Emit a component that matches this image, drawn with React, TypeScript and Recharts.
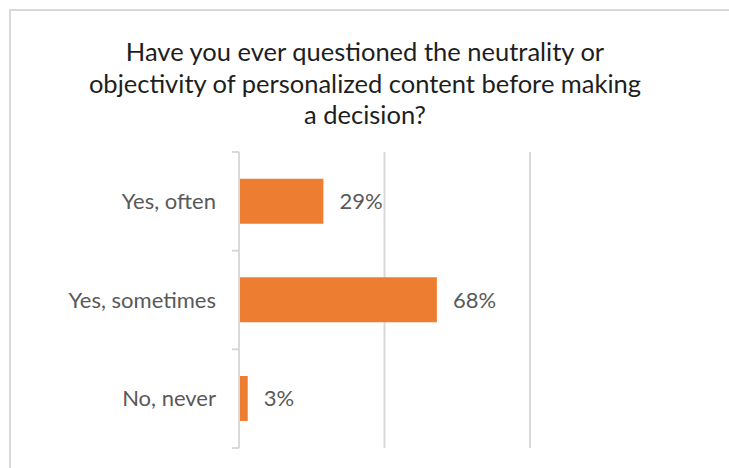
import React from 'react';
import { BarChart, Bar, XAxis, YAxis, CartesianGrid, LabelList } from 'recharts';

const categories = ['Yes, often', 'Yes, sometimes', 'No, never'];
const shares = [29, 68, 3];
const gridTicks = [0, 50, 100];
const titleLines = [
  'Have you ever questioned the neutrality or',
  'objectivity of personalized content before making',
  'a decision?',
];

const data = categories.map((name, i) => ({ name, share: shares[i] }));

const FONT = 'Lato, "Open Sans", sans-serif';
const GRID = '#d9d9d9';
const TEXT = '#595959';

// category label + tick marks sitting on the band boundaries (Excel style)
function CategoryTick(props: any) {
  const { x, y, payload, index, visibleTicksCount } = props;
  const half = payload?.offset ?? 0;
  const isLast = index === (visibleTicksCount ?? categories.length) - 1;
  return (
    <g>
      <line x1={x - 7} x2={x} y1={y - half} y2={y - half} stroke={GRID} strokeWidth={2} />
      {isLast && (
        <line x1={x - 7} x2={x} y1={y + half} y2={y + half} stroke={GRID} strokeWidth={2} />
      )}
      <text
        x={x - 23}
        y={y}
        dy="0.35em"
        textAnchor="end"
        fill={TEXT}
        fontSize={22}
        fontFamily={FONT}
      >
        {payload.value}
      </text>
    </g>
  );
}

export default function App() {
  return (
    <div
      style={{
        position: 'absolute',
        left: 0,
        top: 0,
        width: 729,
        height: 468,
        background: '#fff',
        overflow: 'hidden',
      }}
    >
      {/* chart frame, only top and left edges visible */}
      <div
        style={{
          position: 'absolute',
          left: 9,
          top: 9,
          right: -10,
          bottom: -10,
          borderTop: `2px solid ${GRID}`,
          borderLeft: `2px solid ${GRID}`,
        }}
      />

      {/* TITLE */}
      <div
        style={{
          position: 'absolute',
          left: 9,
          top: 36,
          width: 712,
          textAlign: 'center',
          fontFamily: FONT,
          fontSize: 25.5,
          lineHeight: '31.5px',
          color: '#1e1e1e',
          whiteSpace: 'nowrap',
        }}
      >
        {titleLines.map((line) => (
          <div key={line}>{line}</div>
        ))}
      </div>

      {/* CHART */}
      <div style={{ position: 'absolute', left: 0, top: 0 }}>
        <BarChart
          width={729}
          height={468}
          data={data}
          layout="vertical"
          margin={{ top: 152, right: 199, bottom: 20, left: 0 }}
          barCategoryGap="27%"
        >
          <CartesianGrid horizontal={false} stroke={GRID} strokeWidth={2} />
          <XAxis type="number" domain={[0, 100]} ticks={gridTicks} hide />
          <YAxis
            type="category"
            dataKey="name"
            width={239}
            axisLine={{ stroke: GRID, strokeWidth: 2 }}
            tickLine={false}
            tickSize={0}
            tickMargin={0}
            tick={<CategoryTick />}
            interval={0}
          />
          <Bar dataKey="share" fill="#ED7D31" isAnimationActive={false}>
            <LabelList
              dataKey="share"
              position="right"
              offset={16}
              formatter={(v: any) => `${v}%`}
              fill={TEXT}
              fontSize={22}
              fontFamily={FONT}
            />
          </Bar>
        </BarChart>
      </div>
    </div>
  );
}
